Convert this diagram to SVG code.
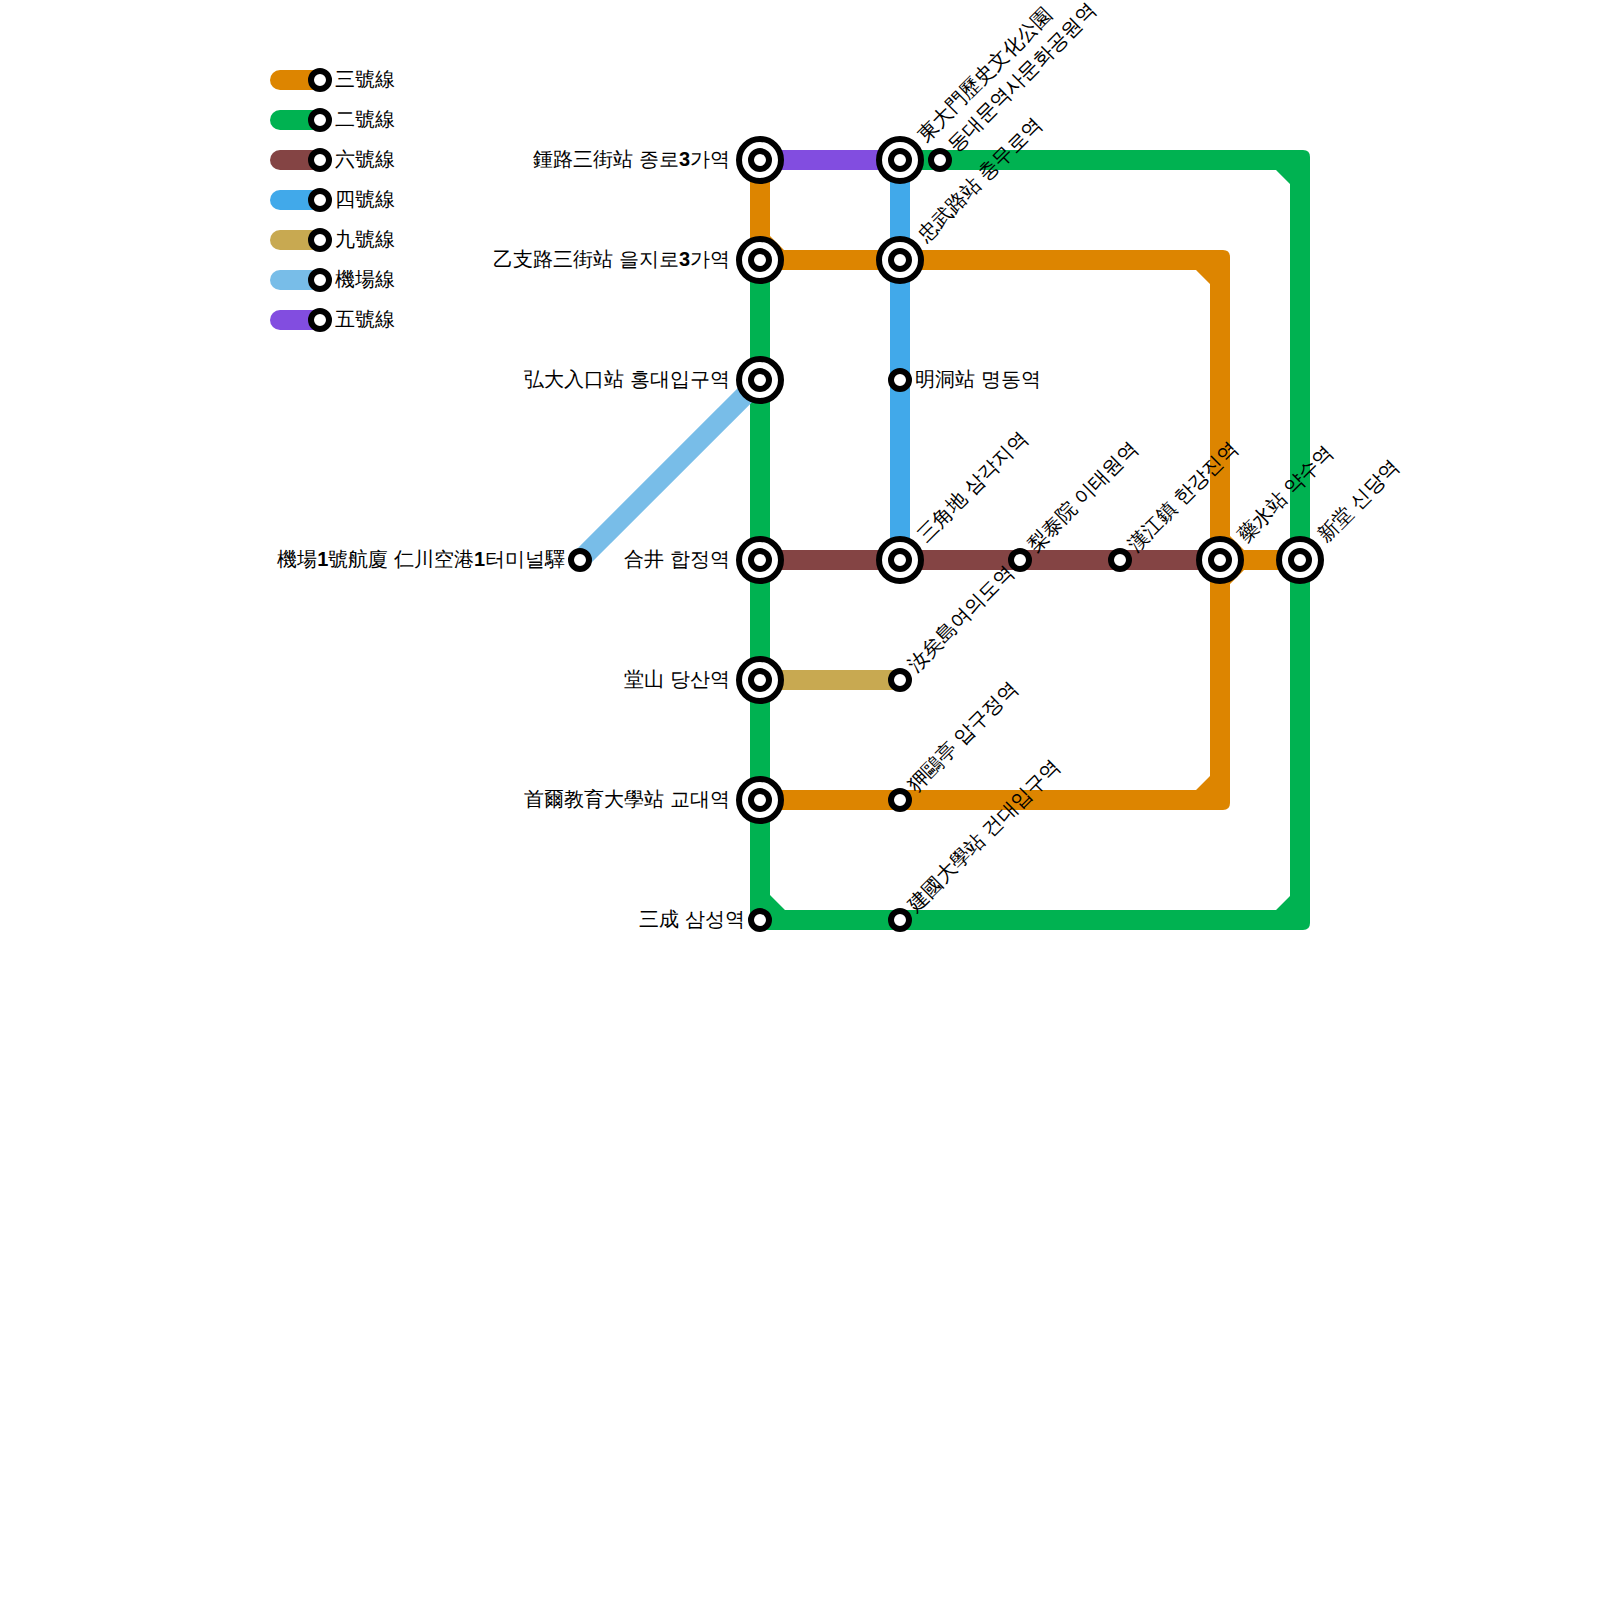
<svg xmlns="http://www.w3.org/2000/svg" width="1600" height="1600" viewBox="0 0 1600 1600">
<style>
.l{fill:none;stroke-width:20}
.or{stroke:#DD8500}.gr{stroke:#00B251}.br{stroke:#844444}.bl{stroke:#41A9EA}.ta{stroke:#C8A951}.lb{stroke:#78BDE8}.pu{stroke:#824DE0}
.ofill{fill:#DD8500}.gfill{fill:#00B251}
.cap{stroke-linecap:round}
.o{fill:#fff;stroke:#000;stroke-width:6}
text{font-family:"Liberation Sans",sans-serif;font-weight:300;font-size:20px;fill:#000;dominant-baseline:middle}
.e{text-anchor:end}
tspan{font-weight:700}
</style>
<g id="connectors">
<path class="l or" d="M760 160V260"/>
<path class="gfill" d="M900 150H1303Q1310 150 1310 157V923Q1310 930 1303 930H757Q750 930 750 923V260H770V895L785 910H1276L1290 896V184L1276 170H900Z"/>
<path class="ofill" d="M760 250H1223Q1230 250 1230 257V803Q1230 810 1223 810H760V790H1196L1210 776V284L1196 270H760Z"/>
<path class="ofill" d="M770 236L784 250H770ZM1230 536L1244 550H1230ZM1230 584L1244 570H1230Z"/>
<path class="l or" d="M1220 560H1300"/>
<path class="l pu" d="M760 160H900"/>
<path class="l bl" d="M900 160V560"/>
<path class="l br" d="M760 560H1220"/>
<path class="l ta" d="M760 680H900"/>
<path class="l lb" d="M760 380L580 560"/>
</g>
<g id="legend">
<g id="legend-3"><path class="l or cap" d="M280 80H320"/><circle class="o" cx="320" cy="80" r="9"/><text x="335" y="81">三號線</text></g>
<g id="legend-2"><path class="l gr cap" d="M280 120H320"/><circle class="o" cx="320" cy="120" r="9"/><text x="335" y="121">二號線</text></g>
<g id="legend-6"><path class="l br cap" d="M280 160H320"/><circle class="o" cx="320" cy="160" r="9"/><text x="335" y="161">六號線</text></g>
<g id="legend-4"><path class="l bl cap" d="M280 200H320"/><circle class="o" cx="320" cy="200" r="9"/><text x="335" y="201">四號線</text></g>
<g id="legend-9"><path class="l ta cap" d="M280 240H320"/><circle class="o" cx="320" cy="240" r="9"/><text x="335" y="241">九號線</text></g>
<g id="legend-a"><path class="l lb cap" d="M280 280H320"/><circle class="o" cx="320" cy="280" r="9"/><text x="335" y="281">機場線</text></g>
<g id="legend-5"><path class="l pu cap" d="M280 320H320"/><circle class="o" cx="320" cy="320" r="9"/><text x="335" y="321">五號線</text></g>
</g>
<g id="st-jongno"><circle class="o" cx="760" cy="160" r="21"/><circle class="o" cx="760" cy="160" r="9"/><text class="e" x="730" y="161">鍾路三街站 종로<tspan>3</tspan>가역</text></g>
<g id="st-euljiro"><circle class="o" cx="760" cy="260" r="21"/><circle class="o" cx="760" cy="260" r="9"/><text class="e" x="730" y="261">乙支路三街站 을지로<tspan>3</tspan>가역</text></g>
<g id="st-hongdae"><circle class="o" cx="760" cy="380" r="21"/><circle class="o" cx="760" cy="380" r="9"/><text class="e" x="730" y="381">弘大入口站 홍대입구역</text></g>
<g id="st-hapjeong"><circle class="o" cx="760" cy="560" r="21"/><circle class="o" cx="760" cy="560" r="9"/><text class="e" x="730" y="561">合井 합정역</text></g>
<g id="st-dangsan"><circle class="o" cx="760" cy="680" r="21"/><circle class="o" cx="760" cy="680" r="9"/><text class="e" x="730" y="681">堂山 당산역</text></g>
<g id="st-kyodae"><circle class="o" cx="760" cy="800" r="21"/><circle class="o" cx="760" cy="800" r="9"/><text class="e" x="730" y="801">首爾教育大學站 교대역</text></g>
<g id="st-samseong"><circle class="o" cx="760" cy="920" r="9"/><text class="e" x="745" y="921">三成 삼성역</text></g>
<g id="st-airport"><circle class="o" cx="580" cy="560" r="9"/><text class="e" x="565" y="561">機場<tspan>1</tspan>號航廈 仁川空港<tspan>1</tspan>터미널驛</text></g>
<g id="st-ddp"><circle class="o" cx="900" cy="160" r="21"/><circle class="o" cx="900" cy="160" r="9"/><text transform="translate(922 139) rotate(-45)">東大門歷史文化公園</text></g>
<g id="st-ddp2"><circle class="o" cx="940" cy="160" r="9"/><text transform="translate(952 149) rotate(-45)">동대문역사문화공원역</text></g>
<g id="st-chungmuro"><circle class="o" cx="900" cy="260" r="21"/><circle class="o" cx="900" cy="260" r="9"/><text transform="translate(922 239) rotate(-45)">忠武路站 충무로역</text></g>
<g id="st-myeongdong"><circle class="o" cx="900" cy="380" r="9"/><text x="915" y="381">明洞站 명동역</text></g>
<g id="st-samgakji"><circle class="o" cx="900" cy="560" r="21"/><circle class="o" cx="900" cy="560" r="9"/><text transform="translate(922 539) rotate(-45)">三角地 삼각지역</text></g>
<g id="st-itaewon"><circle class="o" cx="1020" cy="560" r="9"/><text transform="translate(1032 549) rotate(-45)">梨泰院 이태원역</text></g>
<g id="st-hangangjin"><circle class="o" cx="1120" cy="560" r="9"/><text transform="translate(1132 549) rotate(-45)">漢江鎮 한강진역</text></g>
<g id="st-yaksu"><circle class="o" cx="1220" cy="560" r="21"/><circle class="o" cx="1220" cy="560" r="9"/><text transform="translate(1242 539) rotate(-45)">藥水站 약수역</text></g>
<g id="st-sindang"><circle class="o" cx="1300" cy="560" r="21"/><circle class="o" cx="1300" cy="560" r="9"/><text transform="translate(1322 539) rotate(-45)">新堂 신당역</text></g>
<g id="st-yeouido"><circle class="o" cx="900" cy="680" r="9"/><text transform="translate(912 669) rotate(-45)">汝矣島여의도역</text></g>
<g id="st-apgujeong"><circle class="o" cx="900" cy="800" r="9"/><text transform="translate(912 789) rotate(-45)">狎鷗亭 압구정역</text></g>
<g id="st-konkuk"><circle class="o" cx="900" cy="920" r="9"/><text transform="translate(912 909) rotate(-45)">建國大學站 건대입구역</text></g>
</svg>
